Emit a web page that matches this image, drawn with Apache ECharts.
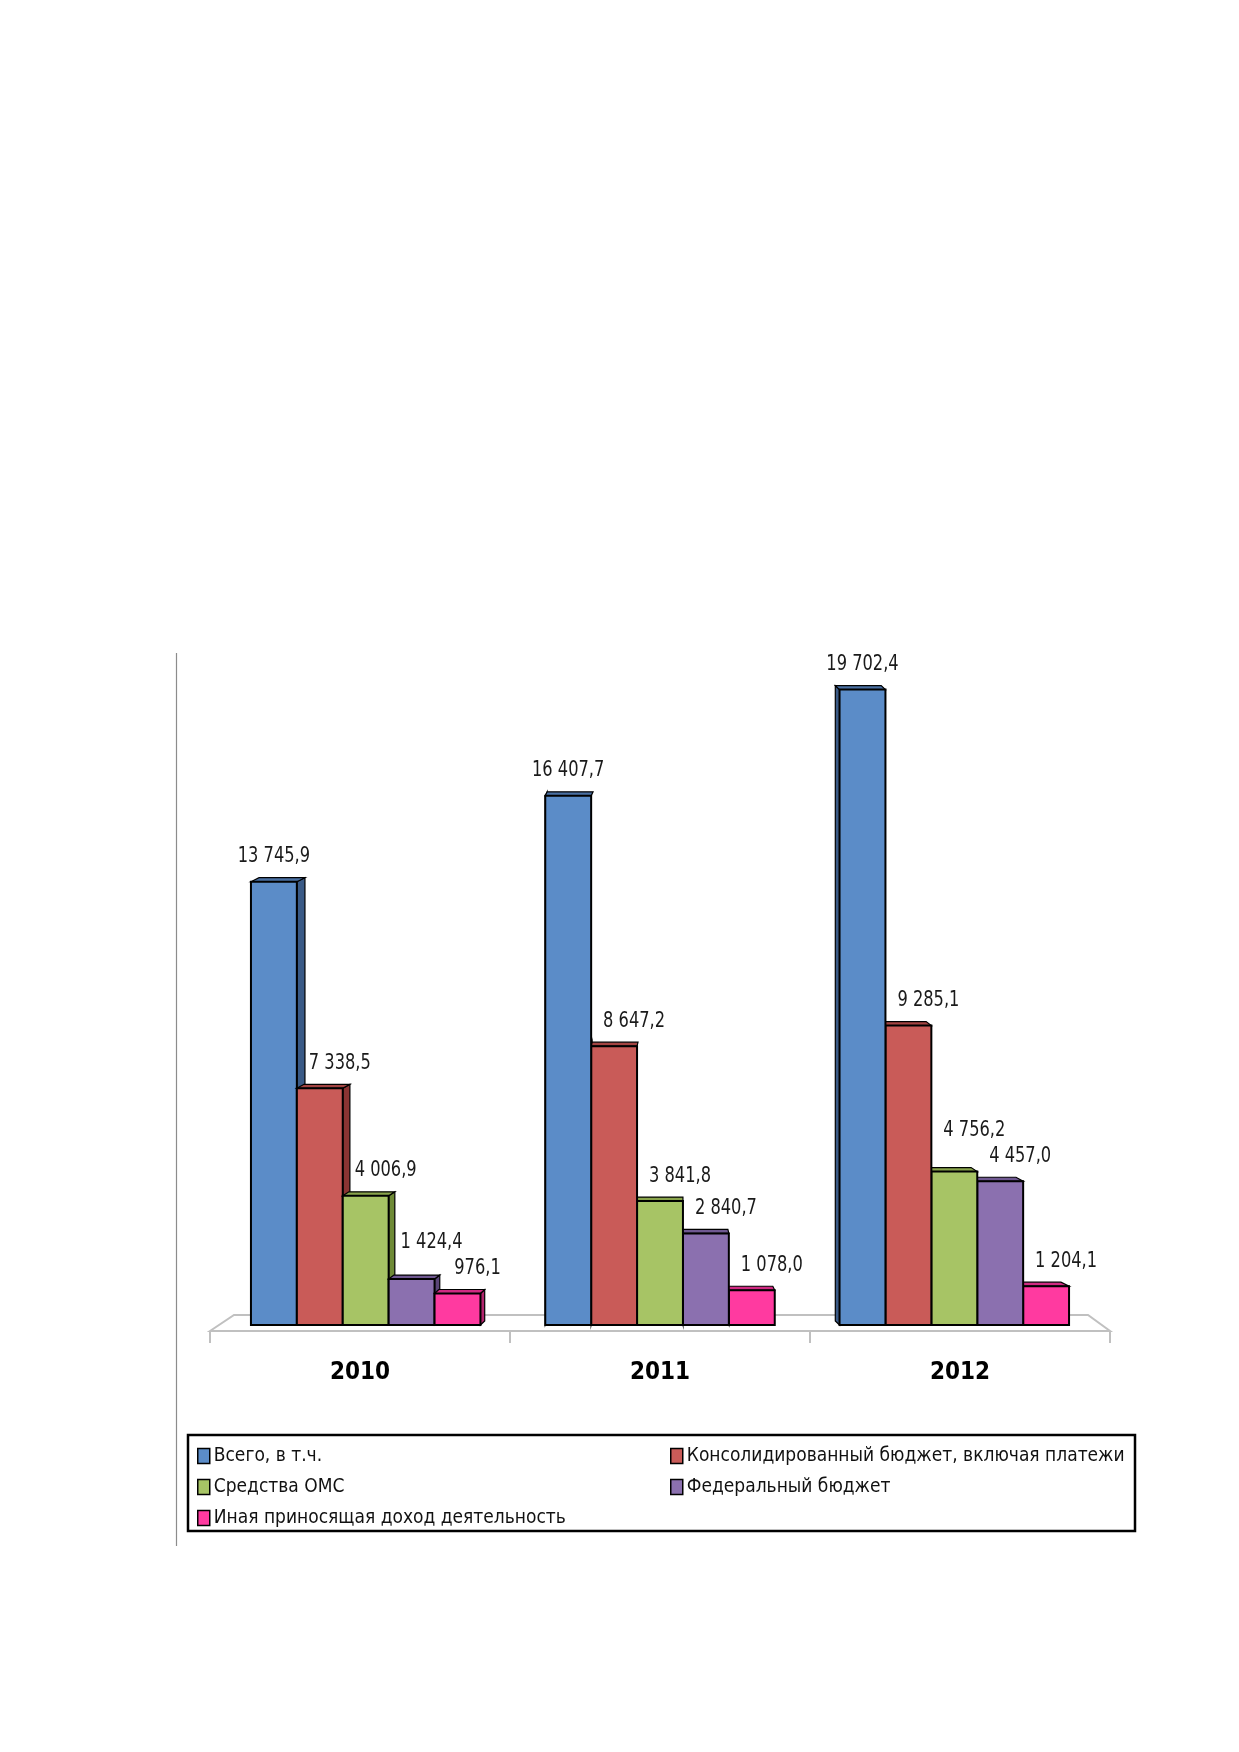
<!DOCTYPE html>
<html>
<head>
<meta charset="utf-8">
<script src="https://cdn.jsdelivr.net/npm/echarts@6/dist/echarts.min.js"></script>
<style>
  html, body { margin: 0; padding: 0; background: #fff; }
  #chart { width: 1239px; height: 1752px; }
</style>
</head>
<body>
<div id="chart"></div>
<script>
var years = ['2010', '2011', '2012'];
var seriesNames = [
    'Всего, в т.ч.',
    'Консолидированный бюджет, включая платежи',
    'Средства ОМС',
    'Федеральный бюджет',
    'Иная приносящая доход деятельность'
];
var totalValues   = [13745.9, 16407.7, 19702.4];
var consValues    = [7338.5, 8647.2, 9285.1];
var omsValues     = [4006.9, 3841.8, 4756.2];
var federalValues = [1424.4, 2840.7, 4457.0];
var otherValues   = [976.1, 1078.0, 1204.1];

var allValues = [totalValues, consValues, omsValues, federalValues, otherValues];
var frontColors = ['#5B8CC8', '#C95B58', '#A7C465', '#8B70AF', '#FF3AA0'];
var sideColors  = ['#3A5A86', '#8A3433', '#6E8A36', '#5A4577', '#B2246D'];
var topColors   = ['#4A70A3', '#A44442', '#89A44B', '#6F5891', '#D02A82'];

var FONT = '"Liberation Sans Narrow", "DejaVu Sans Condensed", "Noto Sans", sans-serif';

function formatNum(v) {
    var s = v.toFixed(1).split('.');
    var intPart = s[0].replace(/\B(?=(\d{3})+(?!\d))/g, ' ');
    return intPart + ',' + s[1];
}

var chart = echarts.init(document.getElementById('chart'));

// точка схода для псевдо-3D
var VX = 660;
var DEPTH_K = 0.021;
var DY = -4;
var LABEL_UP = 25;
var LABEL_GAP = 26;

function makeRender(si) {
    return function (params, api) {
        var cat = api.value(0);
        var val = api.value(1);
        var base = api.coord([cat, 0]);
        var topPt = api.coord([cat, val]);
        var band = api.size([1, 0])[0];
        var barW = band * 0.153;
        var groupW = barW * 5;
        var shift = (VX - base[0]) * 0.019;
        var x0 = base[0] - groupW / 2 + si * barW + shift;
        var x1 = x0 + barW;
        var yb = base[1];
        var yt = topPt[1];
        var dx = (VX - (x0 + x1) / 2) * DEPTH_K;
        var right = base[0] < VX;
        var z2 = right ? si * 3 : (10 - si) * 3;
        var sx = right ? x1 : x0;
        var children = [];
        children.push({
            type: 'polygon', z2: z2,
            shape: { points: [[sx, yt], [sx + dx, yt + DY], [sx + dx, yb + DY], [sx, yb]] },
            style: { fill: sideColors[si], stroke: '#000', lineWidth: 1.2 }
        });
        children.push({
            type: 'polygon', z2: z2,
            shape: { points: [[x0, yt], [x0 + dx, yt + DY], [x1 + dx, yt + DY], [x1, yt]] },
            style: { fill: topColors[si], stroke: '#000', lineWidth: 1.2 }
        });
        children.push({
            type: 'rect', z2: z2 + 1,
            shape: { x: x0, y: yt, width: barW, height: yb - yt },
            style: { fill: frontColors[si], stroke: '#000', lineWidth: 2 }
        });
        // подпись: поднимаем, если мешает подпись соседнего столбца
        var ly = yt - LABEL_UP;
        if (si + 1 < allValues.length) {
            var nextY = api.coord([cat, allValues[si + 1][cat]])[1] - LABEL_UP;
            if (nextY - ly < LABEL_GAP) {
                ly = nextY - LABEL_GAP;
            }
        }
        var lx = (x0 + x1) / 2 + (si === 0 ? 0 : 20);
        children.push({
            type: 'text', z2: 50,
            x: lx, y: ly,
            scaleX: 0.86,
            style: {
                text: formatNum(val),
                x: 0, y: 0,
                align: 'center', verticalAlign: 'middle',
                fill: '#1a1a1a', font: '21px ' + FONT
            }
        });
        return { type: 'group', children: children };
    };
}

var series = [];
for (var i = 0; i < seriesNames.length; i++) {
    var data = [];
    for (var j = 0; j < years.length; j++) {
        data.push([j, allValues[i][j]]);
    }
    series.push({
        type: 'custom',
        name: seriesNames[i],
        coordinateSystem: 'cartesian2d',
        itemStyle: { color: frontColors[i] },
        renderItem: makeRender(i),
        encode: { x: 0, y: 1 },
        data: data,
        silent: true
    });
}

var legendCommon = {
    orient: 'vertical',
    icon: 'rect',
    itemWidth: 12,
    itemHeight: 15,
    itemGap: 11,
    selectedMode: false,
    textStyle: { fontFamily: FONT, fontSize: 19, lineHeight: 20, color: '#111', padding: [0, 0, 0, -1] },
    itemStyle: { borderColor: '#000', borderWidth: 1.5 }
};

// пол и засечки оси категорий
var floorColor = '#C0C0C0';
var ticks = [];
for (var t = 0; t <= years.length; t++) {
    var tx = 210 + t * 300;
    ticks.push({
        type: 'line', silent: true,
        shape: { x1: tx, y1: 1331, x2: tx, y2: 1343 },
        style: { stroke: floorColor, lineWidth: 2 }
    });
}

var option = {
    backgroundColor: '#fff',
    animation: false,
    grid: { left: 210, right: 129, top: 680, bottom: 427 },
    xAxis: {
        type: 'category',
        data: years,
        axisLine: { show: false },
        axisTick: { show: false },
        axisLabel: { margin: 36, fontFamily: FONT, fontSize: 24, fontWeight: 'bold', color: '#000' }
    },
    yAxis: {
        type: 'value',
        min: 0,
        max: 20000,
        show: false
    },
    legend: [
        Object.assign({ left: 192, top: 1441, data: [seriesNames[0], seriesNames[2], seriesNames[4]] }, legendCommon),
        Object.assign({ left: 665, top: 1441, data: [seriesNames[1], seriesNames[3]] }, legendCommon)
    ],
    graphic: [
        {
            type: 'line', silent: true,
            shape: { x1: 176.5, y1: 653, x2: 176.5, y2: 1546 },
            style: { stroke: '#8C8C8C', lineWidth: 1.2 }
        },
        {
            type: 'rect', silent: true,
            shape: { x: 188, y: 1435, width: 947, height: 96 },
            style: { fill: 'none', stroke: '#000', lineWidth: 2.5 }
        },
        {
            type: 'polygon', silent: true, z: 0,
            shape: { points: [[210, 1331], [234, 1315], [1088, 1315], [1110, 1331]] },
            style: { fill: '#fff', stroke: floorColor, lineWidth: 2 }
        }
    ].concat(ticks),
    series: series
};

chart.setOption(option);
</script>
</body>
</html>
